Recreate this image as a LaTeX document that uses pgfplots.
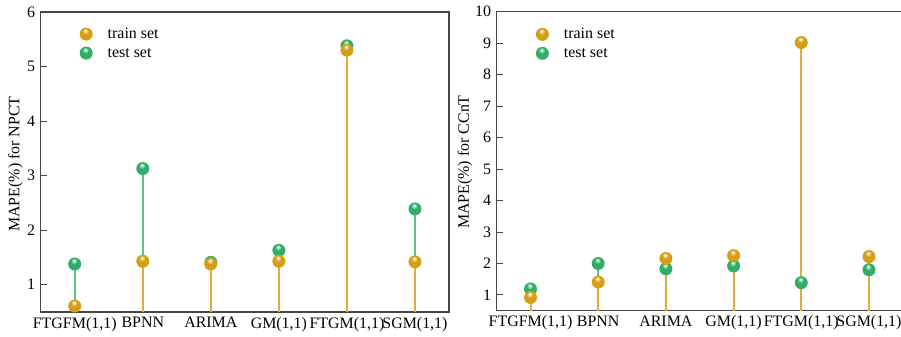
\documentclass[border=0pt]{standalone}
\usepackage{fontspec}
\setmainfont{Liberation Serif}
\usepackage{pgfplots}
\pgfplotsset{compat=1.18}
\definecolor{orangeC}{RGB}{212,158,22}
\definecolor{greenC}{RGB}{48,174,104}
\definecolor{orangeS}{RGB}{224,174,56}
\definecolor{greenS}{RGB}{96,196,136}
\definecolor{axC}{RGB}{70,70,70}
\pgfdeclareplotmark{sball}{%
  \pgfpathcircle{\pgfpointorigin}{\pgfplotmarksize}\pgfusepathqfill
  \begin{pgfscope}\pgfsetfillcolor{white}\pgfsetfillopacity{0.35}%
  \pgfpathcircle{\pgfpoint{-0.05\pgfplotmarksize}{0.38\pgfplotmarksize}}{0.42\pgfplotmarksize}\pgfusepathqfill\end{pgfscope}%
  \begin{pgfscope}\pgfsetfillcolor{white}\pgfsetfillopacity{0.7}%
  \pgfpathcircle{\pgfpoint{-0.05\pgfplotmarksize}{0.42\pgfplotmarksize}}{0.25\pgfplotmarksize}\pgfusepathqfill\end{pgfscope}}
\pgfplotsset{
  mystyle/.style={
    scale only axis,
    xmin=-0.5, xmax=5.5,
    xtick={0,...,5},
    xticklabels={{FTGFM(1,1)},{BPNN},{ARIMA},{GM(1,1)},{FTGM(1,1)},{SGM(1,1)}},
    xtick style={draw=none},
    ytick pos=left,
    tick align=inside,
    major tick length=6bp,
    ytick style={draw=axC, line width=1bp},
    axis line style={draw=axC, line width=1.3bp},
    /pgf/number format/assume math mode=true,
    tick label style={font=\fontsize{16}{19}\selectfont},
    yticklabel style={xshift=-2bp},
    xticklabel style={yshift=-1.5bp},
    label style={font=\fontsize{16}{19}\selectfont},
    legend cell align=left,
    reverse legend,
    legend style={draw=none, fill=none, inner sep=0pt, row sep=1bp,
      nodes={inner sep=1bp, text height=12bp, text depth=4bp},
      font=\fontsize{16}{19}\selectfont, anchor=north west},
    legend image code/.code={\path[draw=none] (0,0) -- (27bp,0);
      \path[##1] plot coordinates {(6.5bp,0bp)};},
    stemG/.style={ycomb, draw=greenS, line width=2bp, forget plot},
    stemO/.style={ycomb, draw=orangeS, line width=2bp, forget plot},
    markG/.style={only marks, mark=sball, mark size=6.5bp, mark options={fill=greenC, draw=none}},
    markO/.style={only marks, mark=sball, mark size=6.5bp, mark options={fill=orangeC, draw=none}},
  }
}
\begin{document}
\begin{tikzpicture}
\path[use as bounding box] (0,0) rectangle (901bp,337bp);
\begin{axis}[mystyle,
  at={(40.7bp,25bp)}, anchor=south west,
  width=408.3bp, height=300bp,
  ymin=0.5, ymax=6, ytick={1,...,6},
  ylabel={MAPE(\%) for NPCT},
  ylabel style={at={(axis description cs:-0.062,0.493)}, anchor=center},
  legend style={at={(axis description cs:0.095,0.957)}},
]
\addplot[stemG] coordinates {(0,1.38) (1,3.13) (2,1.41) (3,1.63) (4,5.38) (5,2.39)};
\addplot[stemO] coordinates {(0,0.61) (1,1.43) (2,1.38) (3,1.43) (4,5.30) (5,1.42)};
\addplot[markG] coordinates {(0,1.38) (1,3.13) (2,1.41) (3,1.63) (4,5.38) (5,2.39)};
\addlegendentry{test set}
\addplot[markO] coordinates {(0,0.61) (1,1.43) (2,1.38) (3,1.43) (4,5.30) (5,1.42)};
\addlegendentry{train set}
\end{axis}
\begin{axis}[mystyle,
  at={(496.7bp,26.3bp)}, anchor=south west,
  width=406.1bp, height=299bp,
  ymin=0.5, ymax=10, ytick={1,...,10},
  ylabel={MAPE(\%) for CCnT},
  ylabel style={at={(axis description cs:-0.078,0.497)}, anchor=center},
  legend style={at={(axis description cs:0.096,0.955)}},
]
\addplot[stemG] coordinates {(0,1.19) (1,2.00) (2,1.83) (3,1.92) (4,1.39) (5,1.80)};
\addplot[stemO] coordinates {(0,0.92) (1,1.41) (2,2.16) (3,2.25) (4,9.02) (5,2.22)};
\addplot[markG] coordinates {(0,1.19) (1,2.00) (2,1.83) (3,1.92) (4,1.39) (5,1.80)};
\addlegendentry{test set}
\addplot[markO] coordinates {(0,0.92) (1,1.41) (2,2.16) (3,2.25) (4,9.02) (5,2.22)};
\addlegendentry{train set}
\end{axis}
\end{tikzpicture}
\end{document}
